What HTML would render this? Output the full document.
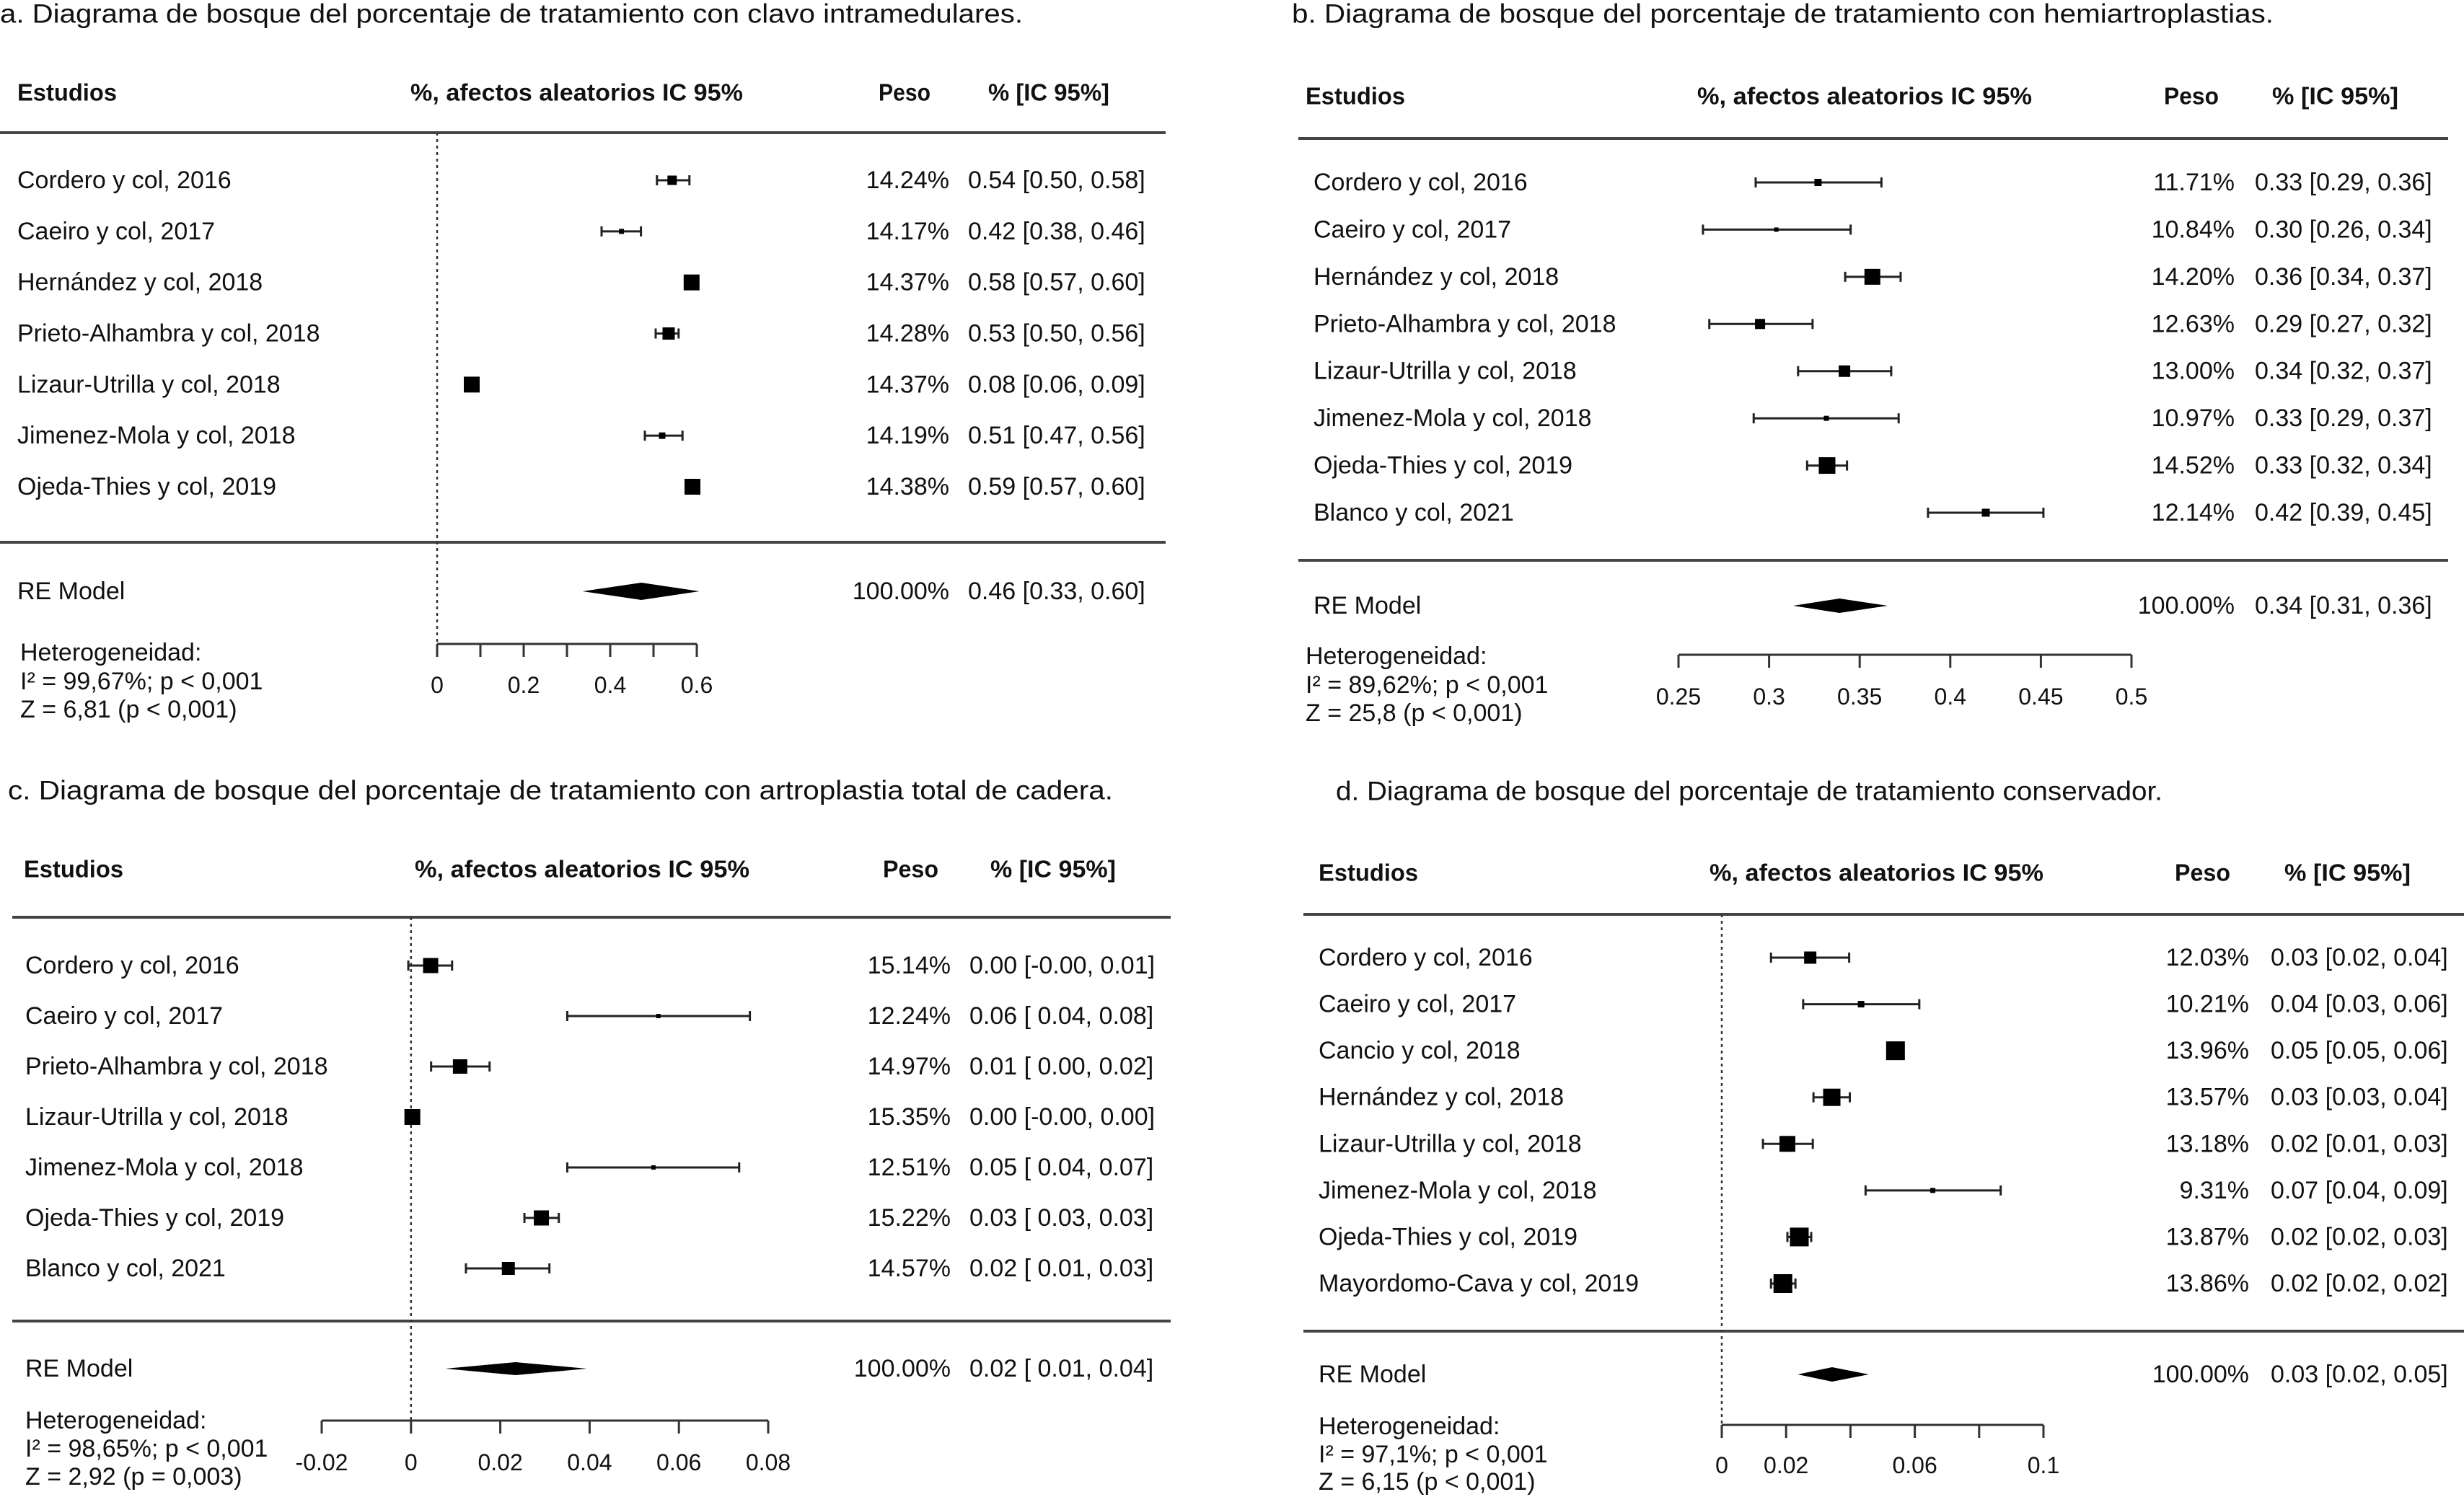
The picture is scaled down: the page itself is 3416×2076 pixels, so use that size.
<!DOCTYPE html>
<html><head><meta charset="utf-8">
<style>
html,body{margin:0;padding:0;background:#fff;}
svg{display:block;}
text{font-family:"Liberation Sans",Arial,sans-serif;fill:#111;}
.hd{font-weight:bold;font-size:33px;}
.rw{font-size:34px;white-space:pre;}
.ax{font-size:32px;}
.tt{font-size:37px;}
</style></head>
<body>
<svg id="chart" width="3416" height="2076" viewBox="0 0 3416 2076" xmlns="http://www.w3.org/2000/svg"></svg>
<script>
// ---------- Panel a: clavo intramedulares ----------
const aStudies = ["Cordero y col, 2016","Caeiro y col, 2017","Hernández y col, 2018","Prieto-Alhambra y col, 2018","Lizaur-Utrilla y col, 2018","Jimenez-Mola y col, 2018","Ojeda-Thies y col, 2019"];
const aEst = [0.543,0.426,0.588,0.535,0.08,0.52,0.59];
const aLo = [0.508,0.38,0.575,0.505,0.07,0.48,0.578];
const aHi = [0.583,0.471,0.60,0.558,0.09,0.567,0.60];
const aWeights = ["14.24%","14.17%","14.37%","14.28%","14.37%","14.19%","14.38%"];
const aCI = ["0.54 [0.50, 0.58]","0.42 [0.38, 0.46]","0.58 [0.57, 0.60]","0.53 [0.50, 0.56]","0.08 [0.06, 0.09]","0.51 [0.47, 0.56]","0.59 [0.57, 0.60]"];
const aBox = [13,7,22,17,22,9,22];
const aRE = [0.336,0.472,0.606];
const aTicks = [0,0.1,0.2,0.3,0.4,0.5,0.6];
const aTickLabels = ["0","","0.2","","0.4","","0.6"];

// ---------- Panel b: hemiartroplastias ----------
const bStudies = ["Cordero y col, 2016","Caeiro y col, 2017","Hernández y col, 2018","Prieto-Alhambra y col, 2018","Lizaur-Utrilla y col, 2018","Jimenez-Mola y col, 2018","Ojeda-Thies y col, 2019","Blanco y col, 2021"];
const bEst = [0.327,0.304,0.357,0.295,0.3416,0.3316,0.332,0.4196];
const bLo = [0.2926,0.2635,0.342,0.267,0.316,0.2915,0.321,0.3877];
const bHi = [0.362,0.345,0.3726,0.324,0.3674,0.3715,0.343,0.4514];
const bWeights = ["11.71%","10.84%","14.20%","12.63%","13.00%","10.97%","14.52%","12.14%"];
const bCI = ["0.33 [0.29, 0.36]","0.30 [0.26, 0.34]","0.36 [0.34, 0.37]","0.29 [0.27, 0.32]","0.34 [0.32, 0.37]","0.33 [0.29, 0.37]","0.33 [0.32, 0.34]","0.42 [0.39, 0.45]"];
const bBox = [10,6,22,14,16,7,23,11];
const bRE = [0.3133,0.3388,0.3654];
const bTicks = [0.25,0.3,0.35,0.4,0.45,0.5];
const bTickLabels = ["0.25","0.3","0.35","0.4","0.45","0.5"];

// ---------- Panel c: artroplastia total ----------
const cStudies = ["Cordero y col, 2016","Caeiro y col, 2017","Prieto-Alhambra y col, 2018","Lizaur-Utrilla y col, 2018","Jimenez-Mola y col, 2018","Ojeda-Thies y col, 2019","Blanco y col, 2021"];
const cEst = [0.0044,0.0554,0.011,0.0003,0.0543,0.0292,0.0218];
const cLo = [-0.0006,0.035,0.0045,-0.0005,0.035,0.0254,0.0123];
const cHi = [0.0092,0.0759,0.0176,0.001,0.0735,0.0331,0.031];
const cWeights = ["15.14%","12.24%","14.97%","15.35%","12.51%","15.22%","14.57%"];
const cCI = ["0.00 [-0.00, 0.01]","0.06 [ 0.04, 0.08]","0.01 [ 0.00, 0.02]","0.00 [-0.00, 0.00]","0.05 [ 0.04, 0.07]","0.03 [ 0.03, 0.03]","0.02 [ 0.01, 0.03]"];
const cBox = [21,6,20,22,6,21,18];
const cRE = [0.0077,0.0234,0.0394];
const cTicks = [-0.02,0,0.02,0.04,0.06,0.08];
const cTickLabels = ["-0.02","0","0.02","0.04","0.06","0.08"];

// ---------- Panel d: tratamiento conservador ----------
const dStudies = ["Cordero y col, 2016","Caeiro y col, 2017","Cancio y col, 2018","Hernández y col, 2018","Lizaur-Utrilla y col, 2018","Jimenez-Mola y col, 2018","Ojeda-Thies y col, 2019","Mayordomo-Cava y col, 2019"];
const dEst = [0.0275,0.0433,0.054,0.0342,0.0204,0.0656,0.0241,0.019];
const dLo = [0.0153,0.0253,0.052,0.0285,0.0128,0.0447,0.0204,0.0153];
const dHi = [0.0396,0.0614,0.056,0.0398,0.0283,0.0867,0.0278,0.0229];
const dWeights = ["12.03%","10.21%","13.96%","13.57%","13.18%","9.31%","13.87%","13.86%"];
const dCI = ["0.03 [0.02, 0.04]","0.04 [0.03, 0.06]","0.05 [0.05, 0.06]","0.03 [0.03, 0.04]","0.02 [0.01, 0.03]","0.07 [0.04, 0.09]","0.02 [0.02, 0.03]","0.02 [0.02, 0.02]"];
const dBox = [17,9,26,24,22,7,26,26];
const dRE = [0.0236,0.0343,0.0457];
const dTicks = [0,0.02,0.04,0.06,0.08,0.1];
const dTickLabels = ["0","0.02","","0.06","","0.1"];

const NS = "http://www.w3.org/2000/svg";
const svg = document.getElementById("chart");
function mk(tag, attrs, parent){
  const e = document.createElementNS(NS, tag);
  for (const k in attrs) e.setAttribute(k, attrs[k]);
  (parent||svg).appendChild(e);
  return e;
}
function txt(parent, x, y, s, cls, anchor, len){
  const t = mk("text", {x:x, y:y, "class":cls, "dominant-baseline":"central", "text-anchor":anchor||"start"}, parent);
  if (len) { t.setAttribute("textLength", len); t.setAttribute("lengthAdjust", "spacingAndGlyphs"); }
  t.textContent = s;
  return t;
}

function drawPanel(L, studies, est, lo, hi, weights, ci, box, re, ticks, tickLabels, hetLines){
  const g = mk("g", {});
  
  
  const sx = v => L.x0 + (v - L.vmin) / (L.vmax - L.vmin) * (L.x1 - L.x0);

  const t = txt(g, L.titleX, L.titleY, L.title, "tt", "start", L.titleLen);
  
  

  const h1 = txt(g, L.hEst, L.hY, "Estudios", "hd", "start", L.hEstLen);
  
  
  const h2 = txt(g, L.hPct[0], L.hY, "%, afectos aleatorios IC 95%", "hd", "start", L.hPct[1]-L.hPct[0]);
  
  
  const h3 = txt(g, L.hPeso[0], L.hY, "Peso", "hd", "start", L.hPeso[1]-L.hPeso[0]);
  
  
  const h4 = txt(g, L.hIC[0], L.hY, "% [IC 95%]", "hd", "start", L.hIC[1]-L.hIC[0]);
  
  

  const l1 = mk("line", {x1:L.lineL, x2:L.lineR, y1:L.topY, y2:L.topY, stroke:"#444", "stroke-width":4}, g);
  
  
  const l2 = mk("line", {x1:L.lineL, x2:L.lineR, y1:L.botY, y2:L.botY, stroke:"#444", "stroke-width":4}, g);
  
  

  if (L.ref) {
    const r = mk("line", {x1:sx(0), x2:sx(0), y1:L.topY, y2:L.axisY, stroke:"#333", "stroke-width":2.5, "stroke-dasharray":"4 5"}, g);
    
    
  }

  const n = studies.length;
  const step = (L.rowLast - L.rowFirst) / (n - 1);
  for (let i = 0; i < n; i++) {
    const y = L.rowFirst + step * i;
    const lab = txt(g, L.labelX, y, studies[i], "rw");
    
    
    const ln = mk("line", {x1:sx(lo[i]), x2:sx(hi[i]), y1:y, y2:y, stroke:"#222", "stroke-width":3}, g);
    
    
    for (const v of [lo[i], hi[i]]) {
      const c = mk("line", {x1:sx(v), x2:sx(v), y1:y-7, y2:y+7, stroke:"#222", "stroke-width":3}, g);
      
      
    }
    const s = box[i];
    const sq = mk("rect", {x:sx(est[i])-s/2, y:y-s/2, width:s, height:s, fill:"#000"}, g);
    
    
    const w = txt(g, L.pesoR, y, weights[i], "rw", "end");
    
    
    const ct = txt(g, L.ciX, y, ci[i], "rw");
    
    
  }

  const rl = txt(g, L.labelX, L.reY, "RE Model", "rw");
  
  
  const dh = L.diamH;
  const dm = mk("polygon", {points:`${sx(re[0])},${L.reY} ${sx(re[1])},${L.reY-dh} ${sx(re[2])},${L.reY} ${sx(re[1])},${L.reY+dh}`, fill:"#000"}, g);
  
  
  const rw = txt(g, L.pesoR, L.reY, "100.00%", "rw", "end");
  
  
  const rc = txt(g, L.ciX, L.reY, L.reCI, "rw");
  
  

  const ax = mk("line", {x1:sx(ticks[0]), x2:sx(ticks[ticks.length-1]), y1:L.axisY, y2:L.axisY, stroke:"#333", "stroke-width":3}, g);
  
  
  for (let i = 0; i < ticks.length; i++) {
    const tk = mk("line", {x1:sx(ticks[i]), x2:sx(ticks[i]), y1:L.axisY, y2:L.axisY+18, stroke:"#333", "stroke-width":3}, g);
    
    
    if (tickLabels[i]) {
      const tl = txt(g, sx(ticks[i]), L.labY, tickLabels[i], "ax", "middle");
      
      
    }
  }

  for (let i = 0; i < hetLines.length; i++) {
    const ht = txt(g, L.hetX, L.het[i], hetLines[i], "rw");
    
    
  }
}

drawPanel({name:"panel-a-clavo", x0:606, x1:966, vmin:0, vmax:0.6, ref:true,
  title:"a. Diagrama de bosque del porcentaje de tratamiento con clavo intramedulares.", titleX:0, titleY:19, titleLen:1418,
  hY:128, hEst:24, hEstLen:138, hPct:[569,1030], hPeso:[1218,1290], hIC:[1370,1538],
  lineL:0, lineR:1616, topY:184, botY:752, rowFirst:250, rowLast:675, labelX:24, pesoR:1316, ciX:1342,
  reY:820, diamH:12, reCI:"0.46 [0.33, 0.60]", axisY:893, labY:950, hetX:28, het:[905,945,984]},
  aStudies, aEst, aLo, aHi, aWeights, aCI, aBox, aRE, aTicks, aTickLabels,
  ["Heterogeneidad:","I\u00B2 = 99,67%; p < 0,001","Z = 6,81 (p < 0,001)"]);

drawPanel({name:"panel-b-hemiartroplastias", x0:2327, x1:2955, vmin:0.25, vmax:0.5, ref:false,
  title:"b. Diagrama de bosque del porcentaje de tratamiento con hemiartroplastias.", titleX:1791, titleY:19, titleLen:1361,
  hY:133, hEst:1810, hEstLen:138, hPct:[2353,2817], hPeso:[3000,3076], hIC:[3150,3325],
  lineL:1800, lineR:3394, topY:192, botY:777, rowFirst:253, rowLast:711, labelX:1821, pesoR:3098, ciX:3126,
  reY:840, diamH:10, reCI:"0.34 [0.31, 0.36]", axisY:908, labY:966, hetX:1810, het:[910,950,989]},
  bStudies, bEst, bLo, bHi, bWeights, bCI, bBox, bRE, bTicks, bTickLabels,
  ["Heterogeneidad:","I\u00B2 = 89,62%; p < 0,001","Z = 25,8 (p < 0,001)"]);

drawPanel({name:"panel-c-artroplastia-total", x0:446, x1:1065, vmin:-0.02, vmax:0.08, ref:true,
  title:"c. Diagrama de bosque del porcentaje de tratamiento con artroplastia total de cadera.", titleX:11, titleY:1096, titleLen:1532,
  hY:1205, hEst:33, hEstLen:138, hPct:[575,1039], hPeso:[1224,1301], hIC:[1373,1547],
  lineL:17, lineR:1623, topY:1272, botY:1832, rowFirst:1339, rowLast:1759, labelX:35, pesoR:1318, ciX:1344,
  reY:1898, diamH:9, reCI:"0.02 [ 0.01, 0.04]", axisY:1970, labY:2028, hetX:35, het:[1970,2009,2048]},
  cStudies, cEst, cLo, cHi, cWeights, cCI, cBox, cRE, cTicks, cTickLabels,
  ["Heterogeneidad:","I\u00B2 = 98,65%; p < 0,001","Z = 2,92 (p = 0,003)"]);

drawPanel({name:"panel-d-conservador", x0:2387, x1:2833, vmin:0, vmax:0.1, ref:true,
  title:"d. Diagrama de bosque del porcentaje de tratamiento conservador.", titleX:1852, titleY:1097, titleLen:1146,
  hY:1210, hEst:1828, hEstLen:138, hPct:[2370,2833], hPeso:[3015,3092], hIC:[3167,3342],
  lineL:1807, lineR:3416, topY:1268, botY:1846, rowFirst:1328, rowLast:1780, labelX:1828, pesoR:3118, ciX:3148,
  reY:1906, diamH:10, reCI:"0.03 [0.02, 0.05]", axisY:1976, labY:2032, hetX:1828, het:[1978,2017,2055]},
  dStudies, dEst, dLo, dHi, dWeights, dCI, dBox, dRE, dTicks, dTickLabels,
  ["Heterogeneidad:","I\u00B2 = 97,1%; p < 0,001","Z = 6,15 (p < 0,001)"]);
</script>
</body></html>
